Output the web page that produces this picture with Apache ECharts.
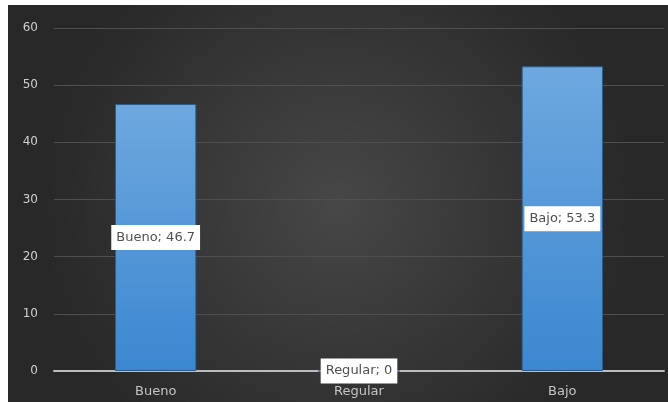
<!DOCTYPE html>
<html><head><meta charset="utf-8">
<script src="https://cdn.jsdelivr.net/npm/echarts@6/dist/echarts.min.js"></script>
<style>
html,body{margin:0;padding:0;background:#fff;width:668px;height:402px;overflow:hidden;}
#c{position:absolute;left:8px;top:5px;width:660px;height:397px;}
</style></head>
<body><div id="c"></div>
<script>
const categories = ['Bueno', 'Regular', 'Bajo'];
const values = [46.7, 0, 53.3];
const yTicks = [0, 10, 20, 30, 40, 50, 60];

const chart = echarts.init(document.getElementById('c'));
chart.setOption({
  animation: false,
  backgroundColor: {
    type: 'radial', x: 0.5, y: 0.5, r: 0.75,
    colorStops: [{offset: 0, color: '#474747'}, {offset: 1, color: '#282828'}]
  },
  grid: {left: 46, right: 4, top: 23, bottom: 31},
  xAxis: {
    type: 'category', data: categories,
    axisLine: {lineStyle: {color: '#bdbdbd', width: 2}},
    axisTick: {show: false},
    axisLabel: {color: '#c4c4c4', fontSize: 13, fontFamily: 'DejaVu Sans', margin: 14}
  },
  yAxis: {
    type: 'value', min: yTicks[0], max: yTicks[yTicks.length - 1], interval: 10,
    axisLine: {show: false}, axisTick: {show: false},
    axisLabel: {color: '#cfcfcf', fontSize: 12, fontFamily: 'DejaVu Sans', margin: 16},
    splitLine: {lineStyle: {color: '#4f4f4f', width: 1}}
  },
  series: [{
    type: 'bar', data: values, barWidth: '40%',
    itemStyle: {
      color: {type: 'linear', x: 0, y: 0, x2: 0, y2: 1,
        colorStops: [{offset: 0, color: '#6ea8df'}, {offset: 1, color: '#3b87d0'}]},
      borderColor: '#2a5d8c', borderWidth: 1
    },
    label: {
      show: true, position: 'inside',
      formatter: p => p.name + '; ' + p.value,
      backgroundColor: '#ffffff', color: '#505050',
      fontSize: 13, fontFamily: 'DejaVu Sans', padding: [6, 5]
    }
  }]
});
</script></body></html>
